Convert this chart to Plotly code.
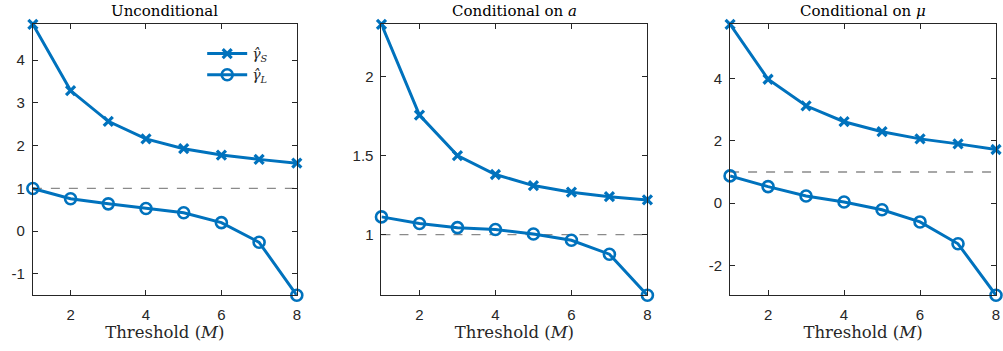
import plotly.graph_objects as go

thresholds = [1, 2, 3, 4, 5, 6, 7, 8]

uncond_S = [4.84, 3.29, 2.57, 2.16, 1.93, 1.78, 1.68, 1.59]
uncond_L = [1.00, 0.76, 0.64, 0.53, 0.43, 0.20, -0.26, -1.50]

cond_a_S = [2.33, 1.756, 1.50, 1.38, 1.31, 1.268, 1.24, 1.219]
cond_a_L = [1.112, 1.07, 1.044, 1.032, 1.004, 0.964, 0.876, 0.616]

cond_mu_S = [5.73, 3.97, 3.12, 2.61, 2.29, 2.06, 1.90, 1.72]
cond_mu_L = [0.875, 0.53, 0.23, 0.04, -0.21, -0.60, -1.30, -2.95]

titles = ["Unconditional", "Conditional on <i>a</i>", "Conditional on <i>μ</i>"]
ytick_sets = [[-1, 0, 1, 2, 3, 4], [1, 1.5, 2], [-2, 0, 2, 4]]
ytick_texts = [["-1", "0", "1", "2", "3", "4"], ["1", "1.5", "2"], ["-2", "0", "2", "4"]]
xtick_vals = [2, 4, 6, 8]
ref_level = 1

panels = [(uncond_S, uncond_L), (cond_a_S, cond_a_L), (cond_mu_S, cond_mu_L)]

W, H = 1003, 351
xdom_px = [(33, 298), (383, 650), (733, 1000)]
ytop_px, ybot_px = 24.3, 295.3

BLUE = "#0072BD"
AX = "#262626"
SERIF = "DejaVu Serif"
SANS = "Liberation Sans"

fig = go.Figure()
for i, (S, L) in enumerate(panels):
    n = "" if i == 0 else str(i + 1)
    fig.add_trace(go.Scatter(
        x=thresholds, y=S, mode="lines+markers", xaxis="x" + n, yaxis="y" + n,
        line=dict(color=BLUE, width=3),
        marker=dict(symbol="x-thin", size=9, line=dict(color=BLUE, width=3.2)),
        cliponaxis=False, name="<i>γ̂</i><sub><i>S</i></sub>", showlegend=(i == 0)))
    fig.add_trace(go.Scatter(
        x=thresholds, y=L, mode="lines+markers", xaxis="x" + n, yaxis="y" + n,
        line=dict(color=BLUE, width=3),
        marker=dict(symbol="circle-open", size=11, color=BLUE, line=dict(color=BLUE, width=2.6)),
        cliponaxis=False, name="<i>γ̂</i><sub><i>L</i></sub>", showlegend=(i == 0)))
    lo = min(S + L)
    hi = max(S + L)
    x0, x1 = xdom_px[i]
    axcommon = dict(showline=True, linecolor=AX, linewidth=1, mirror="ticks",
                    ticks="inside", ticklen=5, tickcolor=AX, showgrid=False,
                    zeroline=False, tickfont=dict(family=SANS, size=15, color=AX))
    fig.update_layout(**{
        "xaxis" + n: dict(domain=[x0 / W, x1 / W], range=[1, 8], tickvals=xtick_vals,
                          anchor="y" + n, ticklabelstandoff=6,
                          title=dict(text="Threshold (<i>M</i>)", standoff=2,
                                     font=dict(family=SERIF, size=16.5, color=AX)),
                          **axcommon),
        "yaxis" + n: dict(domain=[1 - ybot_px / H, 1 - ytop_px / H], range=[lo, hi],
                          tickvals=ytick_sets[i], ticktext=ytick_texts[i],
                          anchor="x" + n, ticklabelstandoff=4, **axcommon),
    })
    fig.add_shape(type="line", xref="x" + n + " domain", yref="y" + n,
                  x0=0, x1=1, y0=ref_level, y1=ref_level,
                  line=dict(color="#8a8a8a", width=1.3, dash="dash"), layer="below")
    fig.add_annotation(text=titles[i], xref="paper", yref="paper",
                       x=(x0 + x1) / 2 / W, y=1 - 11 / H, xanchor="center", yanchor="middle",
                       showarrow=False, font=dict(family=SERIF, size=15, color="black"))

fig.update_layout(
    width=W, height=H, margin=dict(l=0, r=0, t=0, b=0),
    paper_bgcolor="white", plot_bgcolor="white",
    legend=dict(x=203 / W, y=1 - 38 / H, xanchor="left", yanchor="top",
                bgcolor="rgba(0,0,0,0)", font=dict(family=SERIF, size=14, color=AX),
                itemwidth=40, tracegroupgap=0),
)

fig.write_html("out.html")
